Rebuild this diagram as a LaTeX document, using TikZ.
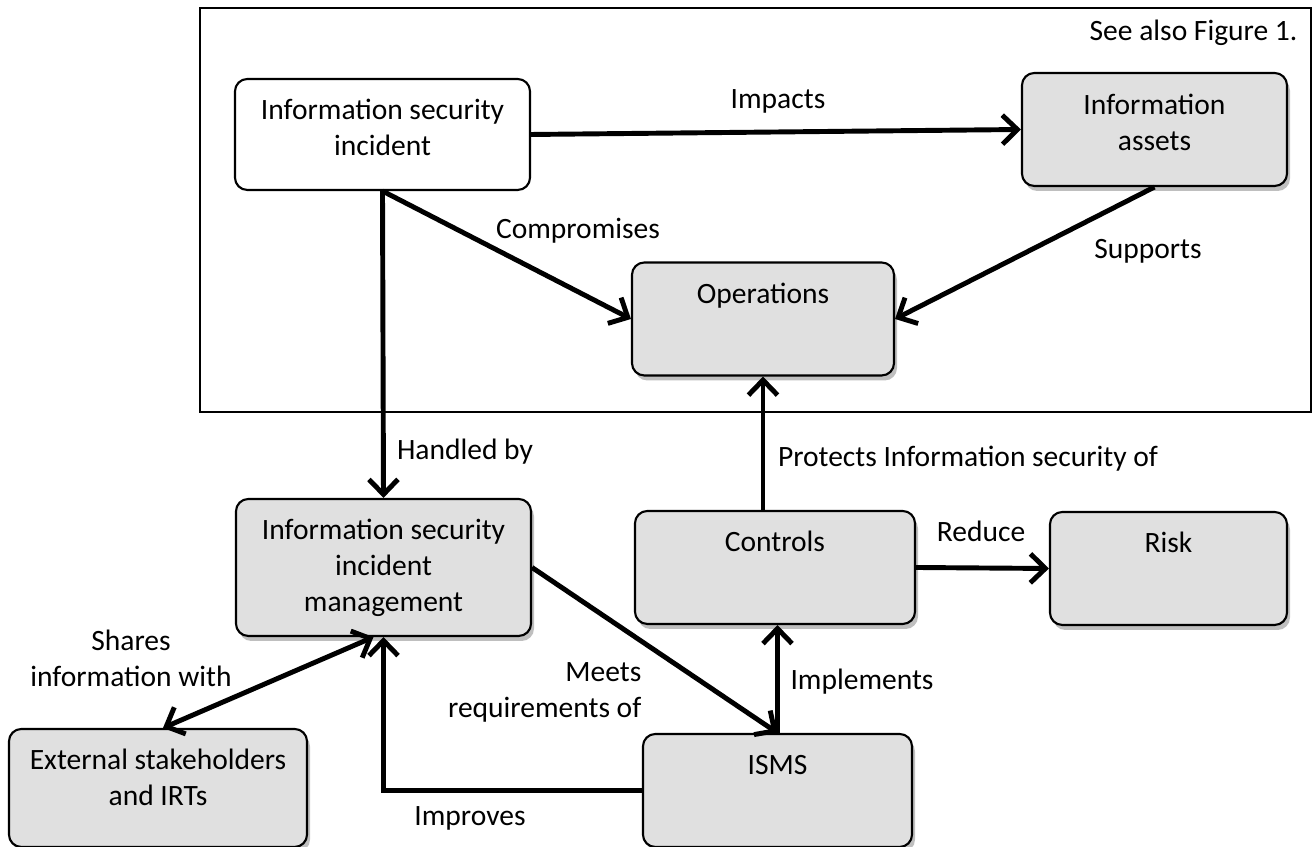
\documentclass[tikz,border=0pt]{standalone}
\usepackage{fontspec}
\setmainfont{Carlito}
\usetikzlibrary{arrows.meta, positioning, calc, shadows}
\definecolor{boxc}{RGB}{224,224,224}
\definecolor{inkc}{RGB}{0,0,0}
\newcommand{\lblfont}{\fontsize{8.4}{10.2}\selectfont}
\tikzset{
  box/.style={
    rectangle, rounded corners=3.5pt, draw=inkc, line width=0.6pt,
    fill=boxc, align=center, font=\lblfont, text=inkc, inner sep=2pt,
    drop shadow={shadow xshift=0.3mm, shadow yshift=-0.5mm, fill=black, opacity=0.25}
  },
  plain/.style={
    rectangle, rounded corners=3.5pt, draw=inkc, line width=0.6pt,
    fill=white, align=center, font=\lblfont, text=inkc, inner sep=2pt
  },
  topbox/.style={box, text height=0.41cm, text depth=0.72cm, inner ysep=0pt},
  frame/.style={rectangle, draw=inkc, line width=0.65pt, inner sep=0pt},
  arr/.style={-{Straight Barb[length=1.5mm, width=2.9mm]}, line width=1.4pt},
  darr/.style={{Straight Barb[length=1.5mm, width=2.9mm]}-{Straight Barb[length=1.5mm, width=2.9mm]},
               line width=1.4pt},
  lbl/.style={font=\lblfont, text=inkc, align=center, inner sep=0pt},
}

\begin{document}
\begin{tikzpicture}

  \useasboundingbox (0,0) rectangle (13.15,-8.47);

  % the top frame, see also Figure 1
  \node[frame, minimum width=11.11cm, minimum height=4.04cm] (fig) at (7.555,-2.10) {};
  \node[lbl, anchor=east] (see) at ($(fig.north east)+(-0.14,-0.26)$) {See also Figure 1.};

  \node[plain, text depth=0.14cm, minimum width=2.95cm, minimum height=1.11cm] (incident)
    at (3.825,-1.345) {Information security\\incident};
  \node[box, text depth=0.14cm, minimum width=2.65cm, minimum height=1.13cm] (assets)
    at (11.545,-1.295) {Information\\assets};
  \node[topbox, minimum width=2.62cm] (ops) at (7.63,-3.19) {Operations};

  \node[box, minimum width=2.95cm, minimum height=1.37cm] (isim) at (3.835,-5.675)
    {Information security\\incident\\management};
  \node[topbox, minimum width=2.80cm] (controls) at (7.75,-5.675) {Controls};
  \node[topbox, minimum width=2.37cm] (risk) at (11.685,-5.685) {Risk};
  \node[box, text depth=0.21cm, minimum width=2.98cm, minimum height=1.18cm] (ext)
    at (1.58,-7.88) {External stakeholders\\and IRTs};
  \node[topbox, minimum width=2.69cm] (isms) at (7.775,-7.905) {ISMS};

  % connectors
  \draw[arr] (incident.east) -- (assets.west);
  \draw[arr] (incident.south) -- (ops.west);
  \draw[arr] (assets.south) -- (ops.east);
  \draw[arr] (incident.south) -- (isim.north);
  \draw[arr] (ops.south |- controls.north) -- (ops.south);
  \draw[arr] (controls.east) -- (risk.west);
  \draw[darr] ([xshift=-1mm]isim.south) -- ([xshift=0.5mm]ext.north);
  \draw[arr] (isim.east) -- (isms.north);
  \draw[arr] (isms.north) -- (isms.north |- controls.south);
  \draw[arr] (isms.west) -| (isim.south);

  % labels
  \node[lbl] (l-impacts) at (7.78,-1.01) {Impacts};
  \node[lbl] (l-comp) at (5.78,-2.31) {Compromises};
  \node[lbl] (l-supp) at (11.48,-2.51) {Supports};
  \node[lbl] (l-handled) at (4.65,-4.52) {Handled by};
  \node[lbl] (l-protects) at (9.68,-4.59) {Protects Information security of};
  \node[lbl] (l-reduce) at (9.81,-5.31) {Reduce};
  \node[lbl] (l-shares) at (1.31,-6.585) {Shares\\information with};
  \node[lbl, align=right, anchor=east] (l-meets) at (6.42,-6.925) {Meets\\requirements of};
  \node[lbl] (l-impl) at (8.62,-6.82) {Implements};
  \node[lbl] (l-impr) at (4.70,-8.18) {Improves};

\end{tikzpicture}
\end{document}
